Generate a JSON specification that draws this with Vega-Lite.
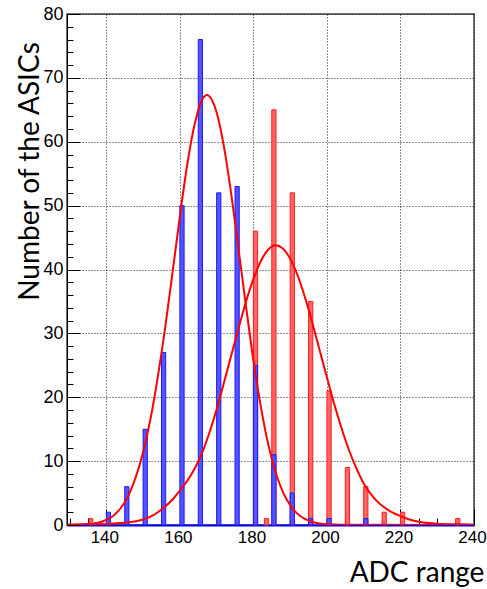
{
  "$schema": "https://vega.github.io/schema/vega-lite/v6.json",
  "width": 407,
  "height": 511,
  "autosize": {"type": "none"},
  "padding": {"left": 67, "top": 14, "right": 13, "bottom": 64},
  "config": {
    "view": {"stroke": "#444444", "strokeWidth": 1.5},
    "axis": {
      "labelFont": "Liberation Sans Narrow, Liberation Sans, sans-serif",
      "labelFontSize": 18,
      "labelColor": "#000000",
      "labelFlush": false,
      "tickColor": "#000000",
      "tickWidth": 1,
      "domainColor": "#000000",
      "gridColor": "#000000",
      "gridDash": [1, 2],
      "gridOpacity": 0.85,
      "titleFont": "Lato",
      "titleFontWeight": "normal",
      "titleFontSize": 28,
      "titleColor": "#000000"
    }
  },
  "datasets": {
    "bars": [
      {"series": "red", "x0": 135.3, "x1": 136.3, "n": 1},
      {"series": "red", "x0": 180, "x1": 181.15, "n": 46},
      {"series": "red", "x0": 183, "x1": 184.15, "n": 1},
      {"series": "red", "x0": 185, "x1": 186.15, "n": 65},
      {"series": "red", "x0": 190, "x1": 191.15, "n": 52},
      {"series": "red", "x0": 195, "x1": 196.15, "n": 35},
      {"series": "red", "x0": 200, "x1": 201.15, "n": 21},
      {"series": "red", "x0": 205, "x1": 206.15, "n": 9},
      {"series": "red", "x0": 210, "x1": 211.15, "n": 6},
      {"series": "red", "x0": 215, "x1": 216.15, "n": 2},
      {"series": "red", "x0": 220, "x1": 221.15, "n": 2},
      {"series": "red", "x0": 235, "x1": 236.15, "n": 1},
      {"series": "blue", "x0": 140, "x1": 141.15, "n": 2},
      {"series": "blue", "x0": 145, "x1": 146.15, "n": 6},
      {"series": "blue", "x0": 150, "x1": 151.15, "n": 15},
      {"series": "blue", "x0": 155, "x1": 156.15, "n": 27},
      {"series": "blue", "x0": 160, "x1": 161.15, "n": 50},
      {"series": "blue", "x0": 165, "x1": 166.15, "n": 76},
      {"series": "blue", "x0": 170, "x1": 171.15, "n": 52},
      {"series": "blue", "x0": 175, "x1": 176.15, "n": 53},
      {"series": "blue", "x0": 180, "x1": 181.15, "n": 25},
      {"series": "blue", "x0": 185, "x1": 186.15, "n": 11},
      {"series": "blue", "x0": 190, "x1": 191.15, "n": 5},
      {"series": "blue", "x0": 195, "x1": 196.15, "n": 1},
      {"series": "blue", "x0": 200, "x1": 201.15, "n": 1},
      {"series": "blue", "x0": 210, "x1": 211.15, "n": 1}
    ],
    "fits": [
      {"fit": "blue", "x": 129.3, "y": 0.02},
      {"fit": "blue", "x": 134, "y": 0.1},
      {"fit": "blue", "x": 138, "y": 0.4},
      {"fit": "blue", "x": 140, "y": 0.8},
      {"fit": "blue", "x": 142, "y": 1.5},
      {"fit": "blue", "x": 144, "y": 2.7},
      {"fit": "blue", "x": 146, "y": 4.6},
      {"fit": "blue", "x": 148, "y": 7.5},
      {"fit": "blue", "x": 150, "y": 11.4},
      {"fit": "blue", "x": 152, "y": 16.6},
      {"fit": "blue", "x": 154, "y": 23.2},
      {"fit": "blue", "x": 156, "y": 30.9},
      {"fit": "blue", "x": 158, "y": 39.5},
      {"fit": "blue", "x": 160, "y": 48.3},
      {"fit": "blue", "x": 162, "y": 56.4},
      {"fit": "blue", "x": 164, "y": 62.7},
      {"fit": "blue", "x": 166, "y": 66.5},
      {"fit": "blue", "x": 167.4, "y": 67.3},
      {"fit": "blue", "x": 169, "y": 66.2},
      {"fit": "blue", "x": 170, "y": 64.6},
      {"fit": "blue", "x": 172, "y": 59.2},
      {"fit": "blue", "x": 174, "y": 51.7},
      {"fit": "blue", "x": 176, "y": 43.0},
      {"fit": "blue", "x": 178, "y": 34.2},
      {"fit": "blue", "x": 180, "y": 25.8},
      {"fit": "blue", "x": 182, "y": 18.6},
      {"fit": "blue", "x": 184, "y": 12.7},
      {"fit": "blue", "x": 186, "y": 8.3},
      {"fit": "blue", "x": 188, "y": 5.2},
      {"fit": "blue", "x": 190, "y": 3.1},
      {"fit": "blue", "x": 192, "y": 1.74},
      {"fit": "blue", "x": 194, "y": 0.94},
      {"fit": "blue", "x": 196, "y": 0.48},
      {"fit": "blue", "x": 198, "y": 0.24},
      {"fit": "blue", "x": 200, "y": 0.11},
      {"fit": "blue", "x": 204, "y": 0.03},
      {"fit": "blue", "x": 240, "y": 0.0},
      {"fit": "red", "x": 129.3, "y": 0.05},
      {"fit": "red", "x": 140, "y": 0.15},
      {"fit": "red", "x": 144, "y": 0.3},
      {"fit": "red", "x": 148, "y": 0.6},
      {"fit": "red", "x": 150, "y": 0.85},
      {"fit": "red", "x": 152, "y": 1.3},
      {"fit": "red", "x": 154, "y": 2.0},
      {"fit": "red", "x": 156, "y": 2.9},
      {"fit": "red", "x": 158, "y": 4.0},
      {"fit": "red", "x": 160, "y": 5.4},
      {"fit": "red", "x": 162, "y": 6.9},
      {"fit": "red", "x": 164, "y": 8.8},
      {"fit": "red", "x": 166, "y": 11.2},
      {"fit": "red", "x": 168, "y": 14.4},
      {"fit": "red", "x": 170, "y": 18.1},
      {"fit": "red", "x": 172, "y": 22.3},
      {"fit": "red", "x": 174, "y": 26.6},
      {"fit": "red", "x": 176, "y": 30.9},
      {"fit": "red", "x": 178, "y": 35.0},
      {"fit": "red", "x": 180, "y": 38.5},
      {"fit": "red", "x": 182, "y": 41.3},
      {"fit": "red", "x": 184, "y": 43.1},
      {"fit": "red", "x": 186, "y": 43.8},
      {"fit": "red", "x": 188, "y": 43.3},
      {"fit": "red", "x": 190, "y": 41.7},
      {"fit": "red", "x": 192, "y": 39.1},
      {"fit": "red", "x": 194, "y": 35.7},
      {"fit": "red", "x": 196, "y": 31.7},
      {"fit": "red", "x": 198, "y": 27.4},
      {"fit": "red", "x": 200, "y": 23.1},
      {"fit": "red", "x": 202, "y": 18.9},
      {"fit": "red", "x": 204, "y": 15.1},
      {"fit": "red", "x": 206, "y": 11.7},
      {"fit": "red", "x": 208, "y": 8.9},
      {"fit": "red", "x": 210, "y": 6.5},
      {"fit": "red", "x": 212, "y": 4.8},
      {"fit": "red", "x": 214, "y": 3.5},
      {"fit": "red", "x": 216, "y": 2.6},
      {"fit": "red", "x": 218, "y": 1.9},
      {"fit": "red", "x": 220, "y": 1.4},
      {"fit": "red", "x": 222, "y": 0.95},
      {"fit": "red", "x": 225, "y": 0.5},
      {"fit": "red", "x": 230, "y": 0.2},
      {"fit": "red", "x": 235, "y": 0.1},
      {"fit": "red", "x": 240, "y": 0.05}
    ]
  },
  "layer": [
    {
      "data": {"name": "bars"},
      "transform": [{"filter": "datum.series === 'red'"}],
      "mark": {"type": "bar", "fill": "#ff6666", "stroke": "#ff1a1a", "strokeWidth": 1},
      "encoding": {
        "x": {
          "field": "x0", "type": "quantitative",
          "scale": {"domain": [129.3, 240], "nice": false, "zero": false},
          "axis": {"orient": "bottom", "values": [130, 135, 145, 150, 155, 165, 170, 175, 185, 190, 195, 205, 210, 215, 225, 230, 235], "tickSize": -7, "labels": false, "domain": false, "grid": false, "title": null}
        },
        "x2": {"field": "x1"},
        "y": {
          "field": "n", "type": "quantitative",
          "scale": {"domain": [0, 80], "nice": false},
          "axis": {"orient": "left", "values": [2, 4, 6, 8, 12, 14, 16, 18, 22, 24, 26, 28, 32, 34, 36, 38, 42, 44, 46, 48, 52, 54, 56, 58, 62, 64, 66, 68, 72, 74, 76, 78], "tickSize": -6, "labels": false, "domain": false, "grid": false, "title": null}
        },
        "y2": {"datum": 0}
      }
    },
    {
      "data": {"name": "bars"},
      "transform": [{"filter": "datum.series === 'blue'"}],
      "mark": {"type": "bar", "fill": "#5555ff", "stroke": "#1a1aff", "strokeWidth": 1},
      "encoding": {
        "x": {
          "field": "x0", "type": "quantitative",
          "axis": {"orient": "bottom", "values": [140, 160, 180, 200, 220, 240], "tickSize": -16, "labelPadding": 20, "labelFontSize": 17, "labelOffset": -2, "domainColor": "#0000ff", "domainWidth": 2, "grid": true,
            "title": "ADC range", "titleX": 349.5, "titleY": 56, "titleAlign": "center", "titleBaseline": "alphabetic"}
        },
        "x2": {"field": "x1"},
        "y": {
          "field": "n", "type": "quantitative",
          "axis": {"orient": "left", "values": [0, 10, 20, 30, 40, 50, 60, 70, 80], "tickSize": -13, "labelPadding": 17, "grid": true,
            "title": "Number of the ASICs", "titleX": -29, "titleY": 157, "titleAngle": -90, "titleAlign": "center", "titleBaseline": "alphabetic"}
        },
        "y2": {"datum": 0}
      }
    },
    {
      "data": {"name": "fits"},
      "mark": {"type": "line", "color": "#ff0000", "strokeWidth": 2, "interpolate": "monotone", "clip": true},
      "encoding": {
        "x": {"field": "x", "type": "quantitative", "axis": null},
        "y": {"field": "y", "type": "quantitative", "axis": null},
        "detail": {"field": "fit"}
      }
    }
  ],
  "resolve": {"axis": {"x": "independent", "y": "independent"}}
}
